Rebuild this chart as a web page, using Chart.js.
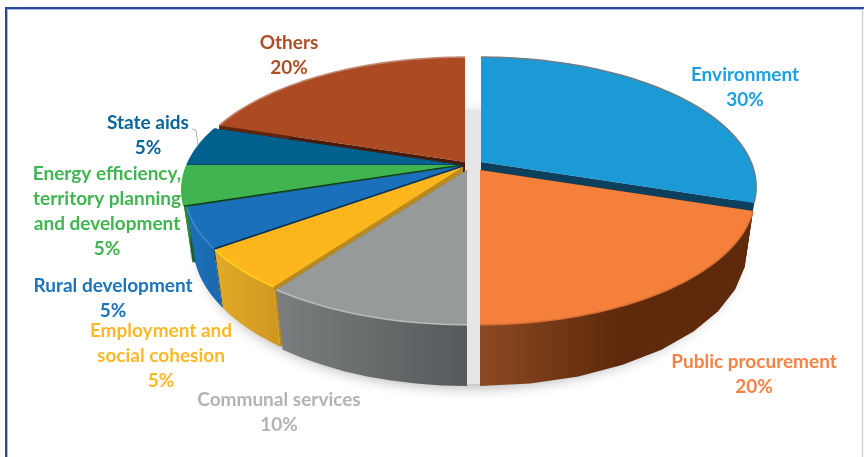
<!DOCTYPE html>
<html>
<head>
<meta charset="utf-8">
<style>
  html, body { margin: 0; padding: 0; background: #fff; overflow: hidden; }
  canvas { display: block; }
</style>
<script src="https://cdn.jsdelivr.net/npm/chart.js@4"></script>
</head>
<body>
<canvas id="pie" width="864" height="457"></canvas>
<script>
// Chart values
const categories = ["Environment", "Public procurement", "Communal services", "Employment and social cohesion",
                    "Rural development", "Energy efficiency, territory planning and development", "State aids", "Others"];
const shares = [30, 20, 10, 5, 5, 5, 5, 20];

// Wrapped label lines for each category
const labelLines = [
  ["Environment"], ["Public procurement"], ["Communal services"], ["Employment and", "social cohesion"],
  ["Rural development"], ["Energy efficiency,", "territory planning", "and development"], ["State aids"], ["Others"]
];

// Slice styling
const topColors   = ["#1b9ad6", "#f5803c", "#979a9a", "#fdb61e", "#1a70bb", "#40b44f", "#02608f", "#ab4a23"];
const textColors  = ["#1e9fdf", "#f58345", "#b1b3b5", "#fdb827", "#1c75bc", "#40b550", "#0a659b", "#ad4e26"];
const wallColors  = [["#0e3f5c", "#0e3f5c"], ["#8c4a22", "#5e2a0b", "#5e2a0b"], ["#7b7e7e", "#565a5c"], ["#e3aa28", "#d0981f"],
                     ["#1b6fb8", "#1b6ab0"], ["#2c8a3a", "#2c8a3a"], ["#034a6e", "#034a6e"], ["#5e260e", "#5e260e"]];
const sideColors  = ["#0e3f5c", "#5e2a0b", "#6d7070", "#b98a20", "#123f68", "#1f5f2a", "#02324c", "#4a1a08"];
const rimColors   = ["#6b7f8a", "#d96f35", "#b8bbbb", "#ffd21a", "#3d89c9", "#40b44f", "#02608f", "#c08a72"];
const edgeColors  = [null, null, null, null, "#0c2f4a", "#0c3a20", "#0b2f47", null];

// Where each slice's tip sits after being pulled away from the pie centre
const slicePull = [[481, 162], [480, 170], [467, 170], [463, 167], [462, 166], [461, 165], [461, 165], [465, 162]];
const sliceWidth = [270, 270, 274, 272, 272, 274, 274, 274];

// Centre of each label block
const labelSpots = [[745, 74.5], [754, 361.5], [279, 399.5], [161, 330.5], [113, 285.5], [107, 173.5], [148, 122.5], [289, 42.5]];

// Perspective model of the tilted disc
const tilt = { k: 0.192, ry: 125, depth: 56, sink: 0.03 };

function project(tip, rx, angle, lower) {
  const u = Math.cos(angle), v = Math.sin(angle);
  const w = 1 - tilt.k * v + (lower ? tilt.sink : 0);
  return [tip[0] + rx * u / w, tip[1] + (tilt.ry * v + (lower ? tilt.depth : 0)) / w];
}

function arcPath(ctx, tip, rx, a0, a1, lower, first) {
  const steps = Math.max(8, Math.ceil((a1 - a0) * 40));
  for (let i = 0; i <= steps; i++) {
    const p = project(tip, rx, a0 + (a1 - a0) * i / steps, lower);
    if (i === 0 && first) ctx.moveTo(p[0], p[1]); else ctx.lineTo(p[0], p[1]);
  }
}

function wallGradient(ctx, x0, x1, stops) {
  const g = ctx.createLinearGradient(x0, 0, x1, 0);
  stops.forEach((c, i) => g.addColorStop(i / (stops.length - 1), c));
  return g;
}

function drawSlice(ctx, i, arc) {
  const tip = slicePull[i], rx = sliceWidth[i];
  const a0 = arc.startAngle, a1 = arc.endAngle;
  const base = [tip[0], tip[1]];
  const drop = [tip[0], tip[1] + tilt.depth / (1 + tilt.sink)];

  // Radial cut faces
  [a0, a1].forEach(a => {
    const p = project(tip, rx, a, false), q = project(tip, rx, a, true);
    ctx.beginPath();
    ctx.moveTo(base[0], base[1]);
    ctx.lineTo(p[0], p[1]);
    ctx.lineTo(q[0], q[1]);
    ctx.lineTo(drop[0], drop[1]);
    ctx.closePath();
    ctx.fillStyle = sideColors[i];
    ctx.fill();
  });

  // Curved outer wall
  const s = project(tip, rx, a0, false), e = project(tip, rx, a1, false);
  ctx.beginPath();
  arcPath(ctx, tip, rx, a0, a1, false, true);
  arcPath(ctx, tip, rx, a1, a0, true, false);
  ctx.closePath();
  ctx.fillStyle = wallGradient(ctx, Math.min(s[0], e[0]), Math.max(s[0], e[0]), wallColors[i]);
  ctx.fill();

  // Upper face
  ctx.beginPath();
  ctx.moveTo(base[0], base[1]);
  arcPath(ctx, tip, rx, a0, a1, false, false);
  ctx.closePath();
  ctx.fillStyle = topColors[i];
  ctx.fill();

  // Bevel along the outer rim
  ctx.beginPath();
  arcPath(ctx, tip, rx, a0, a1, false, true);
  ctx.strokeStyle = rimColors[i];
  ctx.lineWidth = 1.6;
  ctx.stroke();

  // Thin dark seam on the leading edge
  if (edgeColors[i]) {
    ctx.beginPath();
    ctx.moveTo(base[0], base[1]);
    ctx.lineTo(s[0], s[1]);
    ctx.strokeStyle = edgeColors[i];
    ctx.lineWidth = 1.2;
    ctx.stroke();
  }
}

const tiltedPie = {
  id: "tiltedPie",
  beforeDatasetsDraw(chart) {
    const ctx = chart.ctx;
    const arcs = chart.getDatasetMeta(0).data;

    // Frame around the figure
    ctx.save();
    ctx.strokeStyle = "#c9d3e8";
    ctx.lineWidth = 1.5;
    ctx.beginPath();
    ctx.moveTo(862.5, 9);
    ctx.lineTo(862.5, 457);
    ctx.stroke();
    ctx.fillStyle = "#aabbdd";
    ctx.fillRect(5, 9, 858, 1);
    ctx.fillRect(7, 9, 1, 448);
    ctx.fillStyle = "#26499f";
    ctx.fillRect(5, 7, 859, 2);
    ctx.fillRect(5, 7, 2, 450);

    // Soft shadow under the whole pie
    ctx.save();
    ctx.shadowColor = "rgba(0,0,0,0.32)";
    ctx.shadowBlur = 14;
    ctx.shadowOffsetY = 3;
    ctx.beginPath();
    arcPath(ctx, [470, 168], 272, 0, Math.PI * 2, true, true);
    ctx.closePath();
    ctx.fillStyle = "#e6e6e6";
    ctx.fill();
    ctx.restore();

    // Painter's order: back slices first, front slices last
    [7, 6, 5, 0, 4, 3, 2, 1].forEach(i => drawSlice(ctx, i, arcs[i]));

    // Leader line for the small State aids slice
    ctx.strokeStyle = "#b5b5b5";
    ctx.lineWidth = 1;
    ctx.beginPath();
    ctx.moveTo(192, 129);
    ctx.lineTo(196, 130);
    ctx.lineTo(198, 145);
    ctx.stroke();

    // Category and share labels
    ctx.font = "bold 19px Lato, 'Open Sans', sans-serif";
    ctx.textAlign = "center";
    ctx.textBaseline = "middle";
    categories.forEach((name, i) => {
      const lines = labelLines[i].concat([shares[i] + "%"]);
      ctx.fillStyle = textColors[i];
      lines.forEach((t, n) => ctx.fillText(t, labelSpots[i][0], labelSpots[i][1] + n * 25.2));
    });
    ctx.restore();
    return false;
  }
};

new Chart(document.getElementById("pie"), {
  type: "pie",
  data: {
    labels: categories,
    datasets: [{ data: shares, backgroundColor: topColors }]
  },
  options: {
    responsive: false,
    animation: false,
    events: [],
    plugins: { legend: { display: false }, tooltip: { enabled: false } }
  },
  plugins: [tiltedPie]
});
</script>
</body>
</html>
